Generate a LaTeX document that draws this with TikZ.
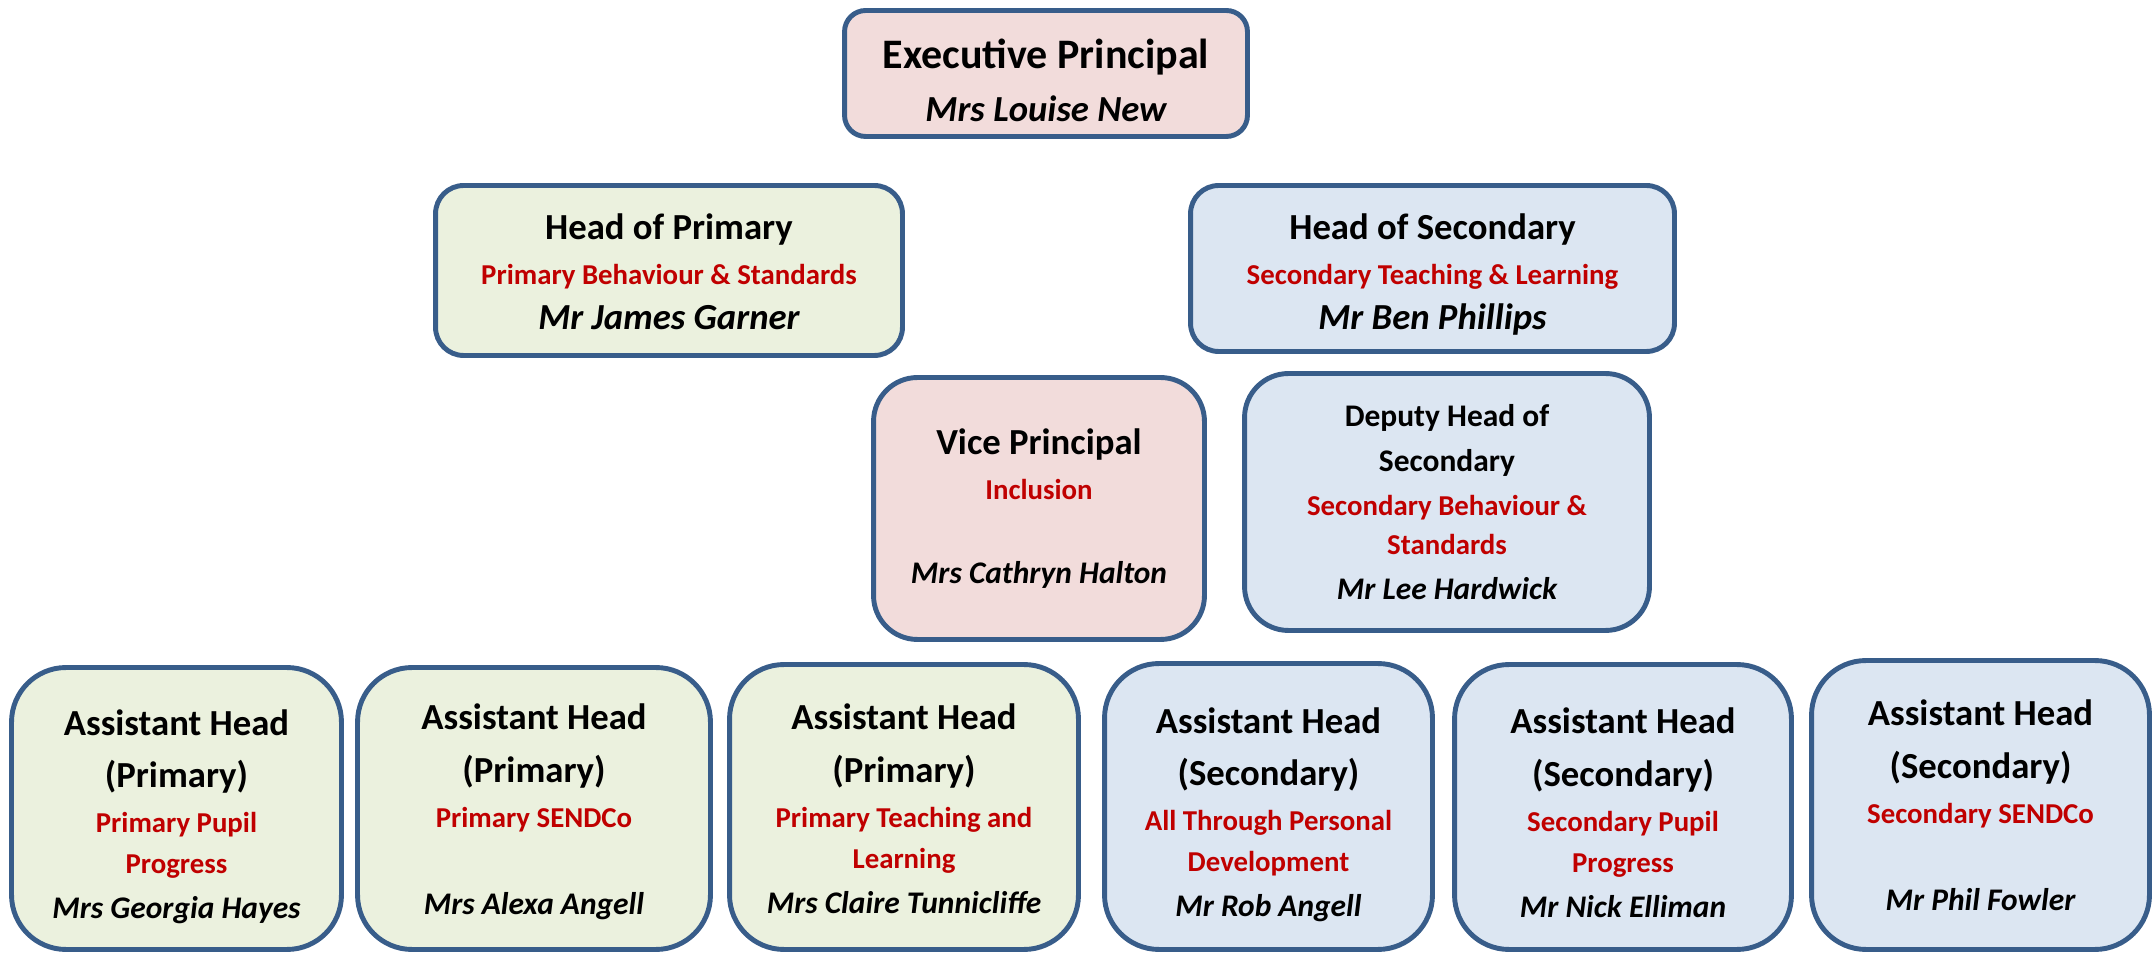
\documentclass[tikz,border=0pt]{standalone}
\usepackage{fontspec}
\setmainfont{Carlito}
\usepackage{xcolor}
\definecolor{boxline}{HTML}{385D8A}
\definecolor{leadfill}{HTML}{F2DCDB}
\definecolor{prifill}{HTML}{EBF1DE}
\definecolor{secfill}{HTML}{DCE6F2}
\definecolor{rolered}{HTML}{C00000}
\newcommand{\rolename}[1]{{\fontsize{16.4}{25.6}\selectfont\color{rolered}#1}}
\newcommand{\staffname}[1]{{\fontsize{17.9}{25.6}\selectfont\itshape #1}}
\newcommand{\leadname}[1]{{\itshape #1}}
\newcommand{\padtop}[1]{\rule{0pt}{#1}}
\tikzset{
    card/.style={rectangle, draw=boxline, line width=2.8pt, align=center, inner sep=0pt, font=\fontsize{20.9}{25.6}\selectfont\bfseries},
    leadcard/.style={card, fill=leadfill},
    pricard/.style={card, fill=prifill},
    seccard/.style={card, fill=secfill},
}

\begin{document}
\begin{tikzpicture}[x=0.02cm, y=-0.02cm]
    \useasboundingbox (0,0) rectangle (2154,955);

    % top
    \node[leadcard, minimum width=8.06cm, minimum height=2.52cm, rounded corners=12pt] (ep) at (1046,73.5) {\padtop{24.7pt}{\fontsize{23.9}{25.6}\selectfont Executive Principal}\\[4.5pt] \leadname{Mrs Louise New}};

    % heads
    \node[pricard, minimum width=9.34cm, minimum height=3.4cm, rounded corners=16pt] (hp) at (669,270.5) {\padtop{16pt}Head of Primary\\ \rolename{Primary Behaviour \& Standards}\\ \leadname{Mr James Garner}};
    \node[seccard, minimum width=9.68cm, minimum height=3.32cm, rounded corners=16pt] (hs) at (1432.5,268.5) {\padtop{21.6pt}Head of Secondary\\ \rolename{Secondary Teaching \& Learning}\\ \leadname{Mr Ben Phillips}};

    \node[leadcard, minimum width=6.62cm, minimum height=5.24cm, rounded corners=25pt] (vp) at (1039,508.5) {Vice Principal\\ \rolename{Inclusion}\\[22pt] \staffname{Mrs Cathryn Halton}};
    \node[seccard, minimum width=8.1cm, minimum height=5.14cm, rounded corners=25pt] (dh) at (1447,502) {{\fontsize{17.9}{25.6}\selectfont Deputy Head of}\\ {\fontsize{17.9}{25.6}\selectfont Secondary}\\ \rolename{Secondary Behaviour \&}\\[-3.5pt] \rolename{Standards}\\ \staffname{Mr Lee Hardwick}};

    % assistant heads
    \node[pricard, minimum width=6.6cm, minimum height=5.64cm, rounded corners=31pt] (ah1) at (176.5,808.5) {\padtop{24pt}Assistant Head\\[4.5pt] (Primary)\\ \rolename{Primary Pupil}\\[-2.3pt] \rolename{Progress}\\ \staffname{Mrs Georgia Hayes}};
    \node[pricard, minimum width=7.06cm, minimum height=5.64cm, rounded corners=31pt] (ah2) at (534,808.5) {\padtop{18pt}Assistant Head\\[4.5pt] (Primary)\\ \rolename{Primary SENDCo}\\[24pt] \staffname{Mrs Alexa Angell}};
    \node[pricard, minimum width=6.98cm, minimum height=5.7cm, rounded corners=31pt] (ah3) at (904,807) {\padtop{16.6pt}Assistant Head\\[4.5pt] (Primary)\\ \rolename{Primary Teaching and}\\[-2.3pt] \rolename{Learning}\\ \staffname{Mrs Claire Tunnicliffe}};
    \node[seccard, minimum width=6.56cm, minimum height=5.72cm, rounded corners=31pt] (ah4) at (1268.5,806.5) {\padtop{24pt}Assistant Head\\[4.5pt] (Secondary)\\ \rolename{All Through Personal}\\[-2.3pt] \rolename{Development}\\ \staffname{Mr Rob Angell}};
    \node[seccard, minimum width=6.74cm, minimum height=5.7cm, rounded corners=31pt] (ah5) at (1623,807) {\padtop{20.8pt}Assistant Head\\[4.5pt] (Secondary)\\ \rolename{Secondary Pupil}\\[-2.3pt] \rolename{Progress}\\ \staffname{Mr Nick Elliman}};
    \node[seccard, minimum width=6.76cm, minimum height=5.78cm, rounded corners=31pt] (ah6) at (1980.5,805) {Assistant Head\\[4.5pt] (Secondary)\\ \rolename{Secondary SENDCo}\\[24pt] \staffname{Mr Phil Fowler}};
\end{tikzpicture}
\end{document}
